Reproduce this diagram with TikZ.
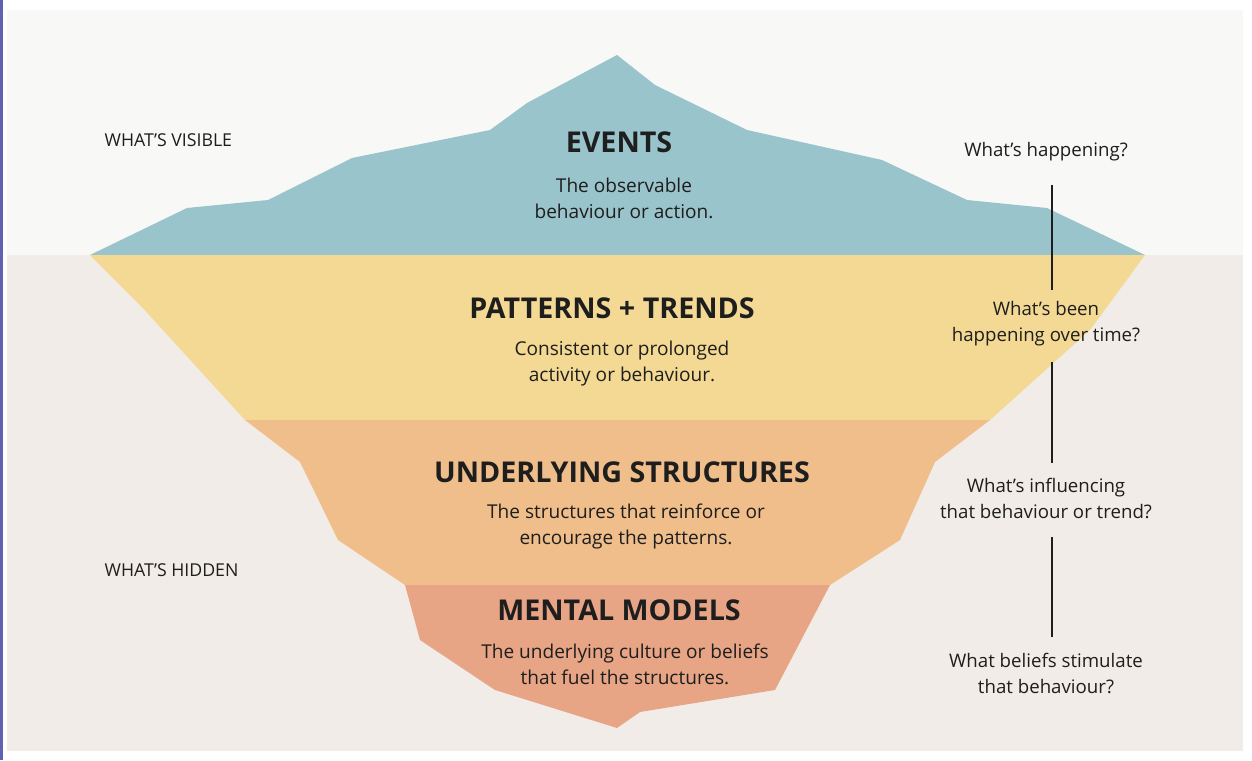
\documentclass[tikz,border=0pt]{standalone}
\usepackage{fontspec}
\setmainfont{Open Sans}
\definecolor{bgtop}{HTML}{F8F8F7}
\definecolor{bgbot}{HTML}{F1ECE8}
\definecolor{ice}{HTML}{9AC4CB}
\definecolor{yel}{HTML}{F3D993}
\definecolor{ora}{HTML}{F0BE8A}
\definecolor{red}{HTML}{E8A585}
\definecolor{txt}{HTML}{1E1E1E}
\definecolor{bar}{HTML}{5F63AF}
\begin{document}
\begin{tikzpicture}[x=0.75pt,y=-0.75pt,
  ttl/.style={font=\bfseries\fontsize{21.5}{24}\selectfont,text=txt},
  bod/.style={font=\fontsize{14.3}{19.5}\selectfont,text=txt,align=center},
  side/.style={font=\fontsize{14}{19.5}\selectfont,text=txt,align=center},
  lab/.style={font=\fontsize{13.3}{16}\selectfont,text=txt,anchor=west},
  vl/.style={draw=txt,line width=0.9pt}]
\useasboundingbox (0,0) rectangle (1252,760);
\fill[white] (0,0) rectangle (1252,760);
\fill[bgtop] (7,10) rectangle (1243,255);
\fill[bgbot] (7,255) rectangle (1243,751);
\fill[bar] (0,0) rectangle (3,760);
\fill[ice] (90,255)--(187,208)--(268,200)--(352,158)--(490,130)--(527,103)--(617,55)--(655,85)--(747,130)--(882,160)--(967,200)--(1047,208)--(1145,255)--cycle;
\fill[yel] (90,255)--(1145,255)--(1090,330)--(990,420)--(245,420)--(140,305)--cycle;
\fill[ora] (245,420)--(990,420)--(935,462)--(900,540)--(830,585)--(405,585)--(338,540)--(300,462)--cycle;
\fill[red] (405,585)--(830,585)--(775,690)--(640,712)--(617,728)--(495,690)--(420,640)--cycle;
\node[lab] (vis) at (100,140) {WHAT’S VISIBLE};
\node[lab] (hid) at (100,570) {WHAT’S HIDDEN};
\node[ttl] (t1) at (619,142) {EVENTS};
\node[bod] (b1) at (624,198) {The observable\\behaviour or action.};
\node[ttl] (t2) at (612,308) {PATTERNS + TRENDS};
\node[bod] (b2) at (622,364) {Consistent or prolonged\\activity or behaviour.};
\node[ttl] (t3) at (622,472) {UNDERLYING STRUCTURES};
\node[bod] (b3) at (626,526) {The structures that reinforce or\\encourage the patterns.};
\node[ttl] (t4) at (619,610) {MENTAL MODELS};
\node[bod] (b4) at (625,664) {The underlying culture or beliefs\\that fuel the structures.};
\node[side] (q1) at (1046,152) {What’s happening?};
\node[side] (q2) at (1046,324) {What’s been\\happening over time?};
\node[side] (q3) at (1046,498) {What’s influencing\\that behaviour or trend?};
\node[side] (q4) at (1046,673) {What beliefs stimulate\\that behaviour?};
\coordinate (a1) at (1052,185); \coordinate (a2) at (1052,290);
\coordinate (c1) at (1052,362); \coordinate (c2) at (1052,463);
\coordinate (d1) at (1052,537); \coordinate (d2) at (1052,637);
\draw[vl] (a1)--(a2); \draw[vl] (c1)--(c2); \draw[vl] (d1)--(d2);
\end{tikzpicture}
\end{document}
